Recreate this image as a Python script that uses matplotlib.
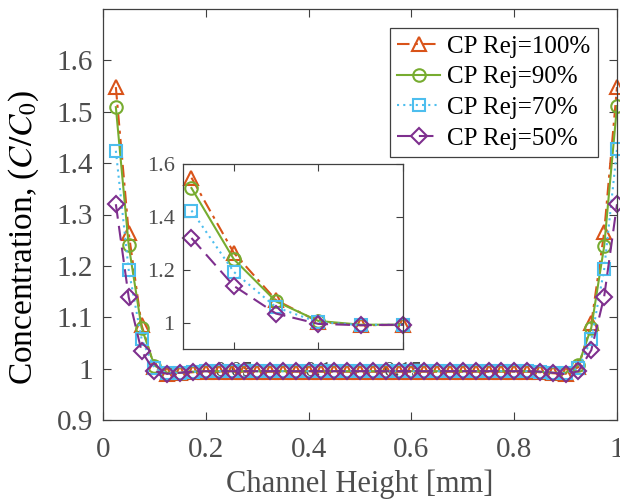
import numpy as np
import matplotlib
matplotlib.use('Agg')
import matplotlib.pyplot as plt
from matplotlib.ticker import FuncFormatter

plt.rcParams['font.family'] = ['Liberation Serif', 'DejaVu Serif']
plt.rcParams['mathtext.fontset'] = 'stix'

# Channel height positions [mm]
height = [k / 40 for k in range(1, 41)]

# Concentration C/C0 for each concentration polarisation rejection
rej_100 = [1.548, 1.264, 1.085, 1.003, 0.990, 0.991, 0.993, 0.994, 0.994, 0.994,
           0.994, 0.994, 0.994, 0.994, 0.994, 0.994, 0.994, 0.994, 0.994, 0.994,
           0.994, 0.994, 0.994, 0.994, 0.994, 0.994, 0.994, 0.994, 0.994, 0.994,
           0.994, 0.994, 0.994, 0.993, 0.991, 0.990, 1.003, 1.088, 1.265, 1.548]
rej_90 = [1.509, 1.240, 1.080, 1.006, 0.992, 0.992, 0.994, 0.995, 0.995, 0.995,
          0.995, 0.995, 0.995, 0.995, 0.995, 0.995, 0.995, 0.995, 0.995, 0.995,
          0.995, 0.995, 0.995, 0.995, 0.995, 0.995, 0.995, 0.995, 0.995, 0.995,
          0.995, 0.995, 0.995, 0.994, 0.992, 0.992, 1.007, 1.080, 1.238, 1.511]
rej_70 = [1.424, 1.192, 1.058, 1.001, 0.991, 0.992, 0.994, 0.995, 0.995, 0.995,
          0.995, 0.995, 0.995, 0.995, 0.995, 0.995, 0.995, 0.995, 0.995, 0.995,
          0.995, 0.995, 0.995, 0.995, 0.995, 0.995, 0.995, 0.995, 0.995, 0.995,
          0.995, 0.995, 0.995, 0.994, 0.992, 0.991, 1.001, 1.057, 1.193, 1.427]
rej_50 = [1.320, 1.139, 1.034, 0.995, 0.990, 0.992, 0.994, 0.995, 0.995, 0.995,
          0.995, 0.995, 0.995, 0.995, 0.995, 0.995, 0.995, 0.995, 0.995, 0.995,
          0.995, 0.995, 0.995, 0.995, 0.995, 0.995, 0.995, 0.995, 0.995, 0.995,
          0.995, 0.995, 0.995, 0.994, 0.992, 0.989, 0.995, 1.036, 1.140, 1.320]

labels = ['CP Rej=100%', 'CP Rej=90%', 'CP Rej=70%', 'CP Rej=50%']
series = [rej_100, rej_90, rej_70, rej_50]
colors = ['#D95319', '#77AC30', '#4DBEEE', '#7E2F8E']
markers = ['^', 'o', 's', 'D']
styles = [(0, (6, 2.5, 1.5, 2.5)), '-', (0, (1, 2)), (0, (7, 3.5))]
msizes = [10, 9, 8, 8]

n_inset = 6  # points shown in the zoomed inset

axis_col = '#404040'
text_col = '#4d4d4d'

fig = plt.figure(figsize=(6.2, 5), dpi=100)
ax = fig.add_axes([103 / 620, 80 / 500, 514 / 620, 411 / 500])
ins = fig.add_axes([183 / 620, 151 / 500, 220 / 620, 185 / 500])

# main axes drawn over inset so the data covers the inset tick labels
ax.set_zorder(2)
ax.patch.set_visible(False)
ins.set_zorder(1)

for y, lab, c, m, ls, ms in zip(series, labels, colors, markers, styles, msizes):
    ax.plot(height, y, color=c, marker=m, linestyle=ls, linewidth=1.5,
            markersize=ms, markerfacecolor='none', markeredgewidth=1.5,
            label=lab, clip_on=False)
    ins.plot(height[:n_inset], y[:n_inset], color=c, marker=m, linestyle=ls,
             linewidth=1.5, markersize=ms, markerfacecolor='none',
             markeredgewidth=1.5, clip_on=False)

ax.set_xlim(0, 1)
ax.set_ylim(0.9, 1.7)
ax.set_xticks([0, 0.2, 0.4, 0.6, 0.8, 1])
ax.set_yticks([0.9, 1.0, 1.1, 1.2, 1.3, 1.4, 1.5, 1.6])
fmt = FuncFormatter(lambda v, p: '%g' % round(v, 3))
ax.xaxis.set_major_formatter(fmt)
ax.yaxis.set_major_formatter(fmt)
ax.tick_params(direction='in', top=True, right=True, length=6, width=0.8,
               colors=axis_col, labelcolor=text_col, labelsize=21)
ax.tick_params(axis='x', pad=12)
ax.tick_params(axis='y', pad=7)
for s in ax.spines.values():
    s.set_color(axis_col)
    s.set_linewidth(0.9)

ax.set_xlabel('Channel Height [mm]', fontsize=22, color=text_col, labelpad=5)
ax.set_ylabel('Concentration, ($C/C_0$)', fontsize=24, color='black')
ax.yaxis.set_label_coords(-0.12, 0.445)

ins.set_xlim(0.02, 0.15)
ins.set_ylim(0.9, 1.6)
ins.set_xticks([0.05, 0.1, 0.15])
ins.set_yticks([1.0, 1.2, 1.4, 1.6])
ins.xaxis.set_major_formatter(fmt)
ins.yaxis.set_major_formatter(fmt)
ins.tick_params(direction='in', top=True, right=True, length=5, width=0.8,
                colors=axis_col, labelcolor=text_col, labelsize=16)
ins.tick_params(axis='x', pad=9)
ins.tick_params(axis='y', pad=6)
for s in ins.spines.values():
    s.set_color(axis_col)
    s.set_linewidth(0.9)

leg = ax.legend(loc='upper right', bbox_to_anchor=(598 / 620, 472 / 500),
                bbox_transform=fig.transFigure, fontsize=18, frameon=True,
                fancybox=False, edgecolor=axis_col, framealpha=1,
                handlelength=1.7, handletextpad=0.3, labelspacing=0.32,
                borderpad=0.3, borderaxespad=0)
leg.get_frame().set_linewidth(0.9)

fig.savefig('out.png', dpi=100)
